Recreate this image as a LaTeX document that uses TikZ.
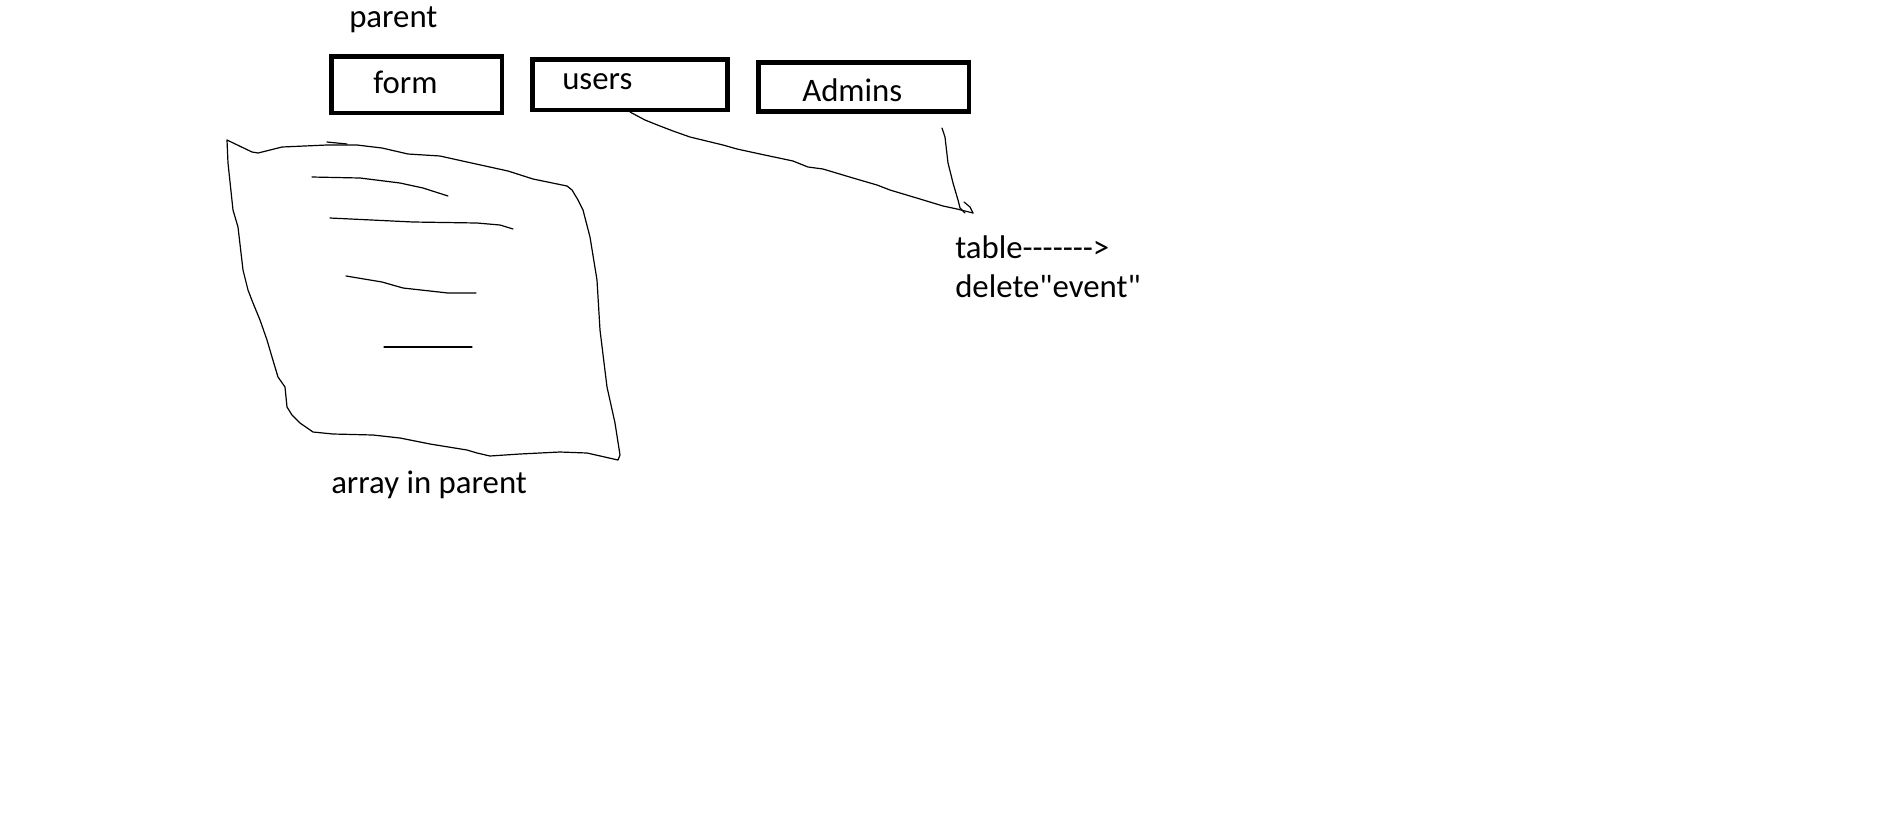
\documentclass[tikz,border=0pt]{standalone}
\usepackage{fontspec}
\setmainfont{Carlito}[Ligatures=TeXReset]
\usetikzlibrary{calc}
\colorlet{SketchInk}{black}
\colorlet{BoxInk}{black}
\tikzset{
    TableBox/.style={draw=BoxInk, line width=3.4pt, rectangle, inner sep=0pt},
    SketchLine/.style={draw=SketchInk, line width=0.9pt, line join=round, line cap=round},
    Label/.style={anchor=base west, inner sep=0pt, font=\fontsize{24.6}{29}\selectfont}
}

\begin{document}
\begin{tikzpicture}[x=0.75pt, y=-0.75pt]

    \useasboundingbox (0, 0) rectangle (1886, 826);

    % Tablas de arriba
    \node[TableBox, minimum width=127.9pt, minimum height=42.4pt] (form) at (416.5, 84.5) {};
    \node[TableBox, minimum width=146.6pt, minimum height=37.9pt] (users) at (630, 84.5) {};
    \node[TableBox, minimum width=157.9pt, minimum height=37.1pt] (admins) at (863.5, 87) {};

    \node[Label] (parentText) at (349, 27) {parent};
    \node[Label] (formText) at (373, 93) {form};
    \node[Label] (usersText) at (562, 89) {users};
    \node[Label] (adminsText) at (802, 101) {Admins};

    % Hoja del array
    \draw[SketchLine] plot coordinates {
        (227,140) (252,152) (258,153) (282,147) (327,145) (357,145) (382,148)
        (408,154) (440,156) (467,162) (508,171) (533,179) (567,186) (572,190)
        (578,200) (583,210) (590,237) (597,280) (600,330) (607,387) (615,423)
        (620,455) (618,460) (587,453) (560,452) (520,454) (490,456) (477,453)
        (467,450) (430,444) (400,438) (373,435) (333,434) (313,432) (300,423)
        (292,415) (287,407) (285,387) (278,377) (272,357) (267,340) (260,320)
        (253,303) (248,290) (243,270) (238,227) (233,210) (228,163) (227,140)
    };
    \draw[SketchLine] (327,142) -- (347,144);

    \draw[SketchLine] (312,177) -- (360,178) -- (400,183) -- (423,188) -- (448,196);
    \draw[SketchLine] (330,218) -- (413,222) -- (477,223) -- (500,225) -- (513,229);
    \draw[SketchLine] (346,276) -- (382,282) -- (403,288) -- (448,293) -- (476,293);
    \draw[SketchLine] (384,347) -- (472,347);

    \node[Label] (arrayText) at (331, 493) {array in parent};

    % Punta donde se juntan las lineas
    \coordinate (tip) at (973, 213);
    \coordinate (adminsTail) at (942, 128);

    \draw[SketchLine] (users.south) -- (645,120) -- (660,126) -- (673,131) -- (690,137)
        -- (723,145) -- (737,149) -- (760,154) -- (793,161) -- (808,167) -- (823,169)
        -- (853,178) -- (877,185) -- (890,190) -- (920,199) -- (943,206) -- (957,209) -- (tip);
    \draw[SketchLine] (adminsTail) -- (945,137) -- (948,163) -- (953,183) -- (958,200)
        -- (960,208) -- (965,213);
    \draw[SketchLine] (964,202) -- (970,207) -- (tip);

    \node[Label] (tableText) at (955, 258) {table{-}{-}{-}{-}{-}{-}{-}>};
    \node[Label] (deleteText) at (955, 297) {delete"event"};

\end{tikzpicture}
\end{document}
